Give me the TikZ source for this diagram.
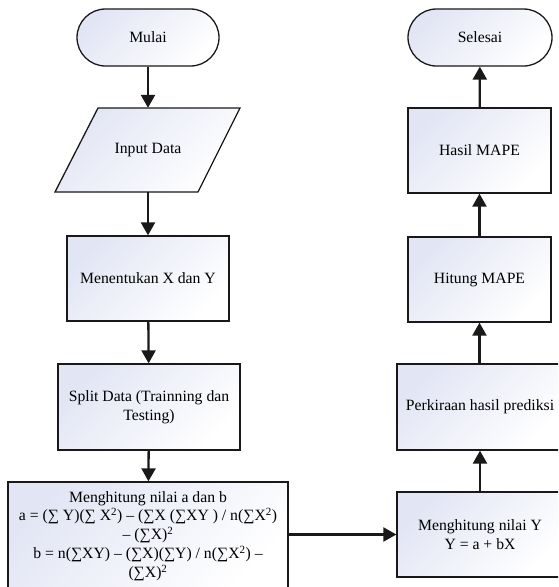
\documentclass[tikz,border=0pt]{standalone}
\usepackage{fontspec}
\setmainfont{Liberation Serif}
\usetikzlibrary{arrows.meta}
\definecolor{lav}{RGB}{226,229,244}
\definecolor{edge}{RGB}{25,25,25}
\tikzset{
  shadebox/.style={draw=edge, line width=1.3pt, top color=lav, bottom color=white, shading angle=45,
    inner sep=0pt, align=center, font=\fontsize{15.7}{18.8}\selectfont},
  procbox/.style={shadebox, rectangle},
  termbox/.style={shadebox, rectangle, rounded corners=28.5pt},
  flow/.style={draw=edge, line width=2.3pt, -{Triangle[width=14pt,length=13pt]}},
  txt/.style={inner sep=0pt, align=center, font=\fontsize{15.7}{18.8}\selectfont},
}
\begin{document}
\begin{tikzpicture}[x=1pt,y=-1pt]
\path[use as bounding box, clip] (0,0) rectangle (558,587);
% left column
\node[termbox, minimum width=142pt, minimum height=57pt] (mulai) at (148,37.5) {Mulai};
\path[shadebox] (98,108) -- (240,108) -- (198,192) -- (55,192) -- cycle;
\node[txt, minimum width=100pt, minimum height=84pt] (input) at (148,150) {Input Data};
\node[procbox, minimum width=162pt, minimum height=85pt] (tentu) at (148,278.5) {Menentukan X dan Y};
\node[procbox, minimum width=182pt, minimum height=86pt] (split) at (149,407) {Split Data (Trainning dan\\Testing)};
\node[procbox, minimum width=280pt, minimum height=108pt] (hitab) at (148,536) {Menghitung nilai a dan b\\
a = (∑ Y)(∑ X\textsuperscript{2}) – (∑X (∑XY ) / n(∑X\textsuperscript{2})\\
– (∑X)\textsuperscript{2}\\
b = n(∑XY) – (∑X)(∑Y) / n(∑X\textsuperscript{2}) –\\
(∑X)\textsuperscript{2}};
% right column
\node[termbox, minimum width=144pt, minimum height=57pt] (selesai) at (480,37.5) {Selesai};
\node[procbox, minimum width=143pt, minimum height=85pt] (hasil) at (479.5,150.5) {Hasil MAPE};
\node[procbox, minimum width=143pt, minimum height=85pt] (hitung) at (479.5,279.5) {Hitung MAPE};
\node[procbox, minimum width=166pt, minimum height=86pt] (kira) at (480,407) {Perkiraan hasil prediksi};
\node[procbox, minimum width=166pt, minimum height=85pt] (hity) at (480,534.5) {Menghitung nilai Y\\Y = a + bX};
% connectors
\draw[flow] (mulai) -- (input);
\draw[flow] (input) -- (tentu);
\draw[flow] (tentu) -- (split);
\draw[flow] (split) -- (hitab);
\draw[flow] (hitab.east |- hity.west) -- (hity.west);
\draw[flow] (hity.north -| kira) -- (kira);
\draw[flow] (kira.north -| hitung) -- (hitung);
\draw[flow] (hitung) -- (hasil);
\draw[flow] (hasil) -- (selesai);
\end{tikzpicture}
\end{document}
